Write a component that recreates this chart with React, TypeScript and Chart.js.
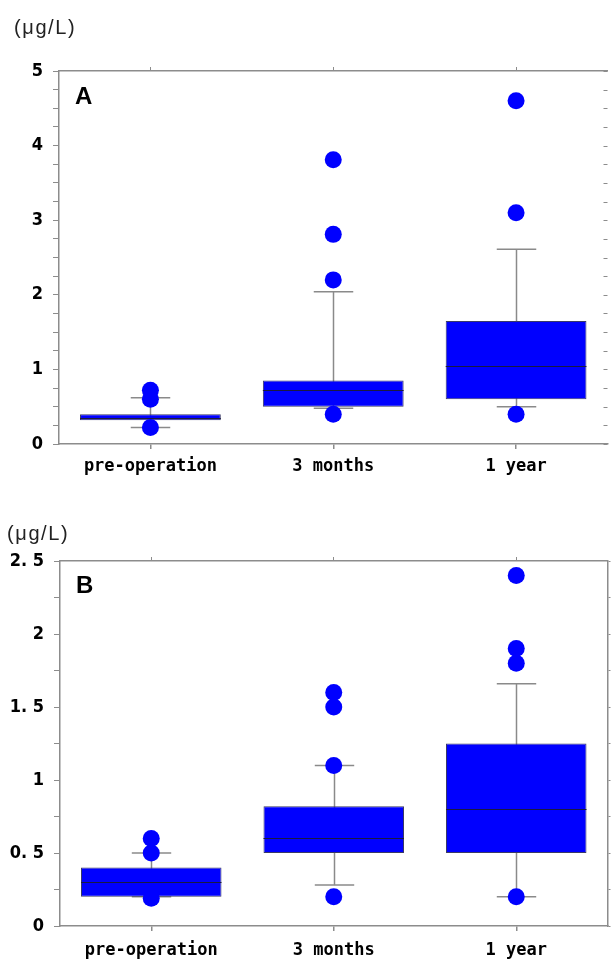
import React, { useEffect, useRef } from 'react';
import { Chart, registerables } from 'chart.js';

Chart.register(...registerables);

const categories = ['pre-operation', '3 months', '1 year'];

// Panel A
const aQ1 = [0.32, 0.5, 0.6];
const aQ3 = [0.4, 0.85, 1.65];
const aMedian = [0.35, 0.72, 1.05];
const aWhiskerLow = [0.22, 0.48, 0.5];
const aWhiskerHigh = [0.62, 2.04, 2.61];
const aOutliersPre = [0.72, 0.6, 0.22];
const aOutliers3m = [0.4, 2.2, 2.81, 3.81];
const aOutliers1y = [0.4, 3.1, 4.6];
const aTickValues = [0, 1, 2, 3, 4, 5];
const aTickLabels = ['0', '1', '2', '3', '4', '5'];

// Panel B
const bQ1 = [0.2, 0.5, 0.5];
const bQ3 = [0.4, 0.82, 1.25];
const bMedian = [0.3, 0.6, 0.8];
const bWhiskerLow = [0.2, 0.28, 0.2];
const bWhiskerHigh = [0.5, 1.1, 1.66];
const bOutliersPre = [0.6, 0.5, 0.19];
const bOutliers3m = [1.6, 1.5, 1.1, 0.2];
const bOutliers1y = [2.4, 1.9, 1.8, 0.2];
const bTickValues = [0, 0.5, 1, 1.5, 2, 2.5];
const bTickLabels = ['0', '0. 5', '1', '1. 5', '2', '2. 5'];

const BLUE = '#0000ff';
const AXIS = '#8c8c8c';
const NUM_FONT = "'DejaVu Sans Condensed', 'Liberation Sans Narrow', 'DejaVu Sans', sans-serif";
const CAT_FONT = "'DejaVu Sans Mono', 'Liberation Mono', monospace";

type PanelProps = {
  top: number;
  height: number;
  leftW: number;
  rightW: number;
  rightInward: boolean;
  topAxisH: number;
  bottomAxisH: number;
  yMax: number;
  q1: number[];
  q3: number[];
  median: number[];
  low: number[];
  high: number[];
  outliers: number[][];
  tickValues: number[];
  tickLabels: string[];
  catPadding: number;
};

function BoxPanel(p: PanelProps) {
  const ref = useRef<HTMLCanvasElement | null>(null);
  useEffect(() => {
    if (!ref.current) return;
    const points: { x: string; y: number }[] = [];
    p.outliers.forEach((arr, i) => arr.forEach((v) => points.push({ x: categories[i], y: v })));

    const boxPlugin = {
      id: 'boxWhiskers',
      beforeDatasetsDraw(chart: any) {
        const { ctx } = chart;
        const x = chart.scales.x;
        const y = chart.scales.y;
        const step = x.getPixelForValue(1) - x.getPixelForValue(0);
        const cap = step * 0.108;
        ctx.save();
        ctx.strokeStyle = '#8a8a8a';
        ctx.lineWidth = 1.5;
        categories.forEach((_, i) => {
          const px = Math.round(x.getPixelForValue(i)) + 0.5;
          ctx.beginPath();
          ctx.moveTo(px, y.getPixelForValue(p.low[i]));
          ctx.lineTo(px, y.getPixelForValue(p.high[i]));
          ctx.stroke();
          [p.low[i], p.high[i]].forEach((v) => {
            const py = y.getPixelForValue(v);
            ctx.beginPath();
            ctx.moveTo(px - cap, py);
            ctx.lineTo(px + cap, py);
            ctx.stroke();
          });
        });
        ctx.restore();
      },
      afterDatasetDraw(chart: any, args: any) {
        if (args.index !== 0) return;
        const { ctx } = chart;
        const y = chart.scales.y;
        ctx.save();
        ctx.strokeStyle = '#1a1a40';
        ctx.lineWidth = 1;
        args.meta.data.forEach((bar: any, i: number) => {
          const { x: bx, width } = bar.getProps(['x', 'width'], true);
          const py = Math.round(y.getPixelForValue(p.median[i])) + 0.5;
          ctx.beginPath();
          ctx.moveTo(bx - width / 2, py);
          ctx.lineTo(bx + width / 2, py);
          ctx.stroke();
        });
        ctx.restore();
      },
      afterDraw(chart: any) {
        if (!p.rightInward) return;
        const { ctx, chartArea } = chart;
        const yr = chart.scales.yRight;
        ctx.save();
        ctx.strokeStyle = AXIS;
        ctx.lineWidth = 1;
        yr.ticks.forEach((t: any) => {
          const py = Math.round(yr.getPixelForValue(t.value)) + 0.5;
          ctx.beginPath();
          ctx.moveTo(chartArea.right - 4, py);
          ctx.lineTo(chartArea.right, py);
          ctx.stroke();
        });
        ctx.restore();
      },
    };

    const labelFor = (v: number) => {
      const idx = p.tickValues.findIndex((t) => Math.abs(t - v) < 1e-6);
      return idx >= 0 ? p.tickLabels[idx] : '';
    };

    const chart = new Chart(ref.current, {
      type: 'bar',
      data: {
        labels: categories,
        datasets: [
          {
            type: 'bar',
            data: p.q1.map((v, i) => [v, p.q3[i]]) as any,
            backgroundColor: BLUE,
            borderColor: '#3a3a66',
            borderWidth: 1,
            borderSkipped: false,
            barPercentage: 0.77,
            categoryPercentage: 1,
            order: 1,
            xAxisID: 'x',
            yAxisID: 'y',
          },
          {
            type: 'line',
            data: points as any,
            showLine: false,
            pointRadius: 8.5,
            pointBackgroundColor: BLUE,
            pointBorderWidth: 0,
            pointBorderColor: BLUE,
            order: 0,
            xAxisID: 'x',
            yAxisID: 'y',
          },
        ] as any,
      },
      options: {
        animation: false,
        responsive: false,
        maintainAspectRatio: false,
        devicePixelRatio: 1,
        layout: { padding: 0 },
        plugins: { legend: { display: false }, tooltip: { enabled: false } },
        scales: {
          x: {
            type: 'category',
            position: 'bottom',
            offset: true,
            grid: { offset: false, drawOnChartArea: false, drawTicks: true, tickLength: 5, color: AXIS, lineWidth: 1.5 },
            border: { display: true, color: AXIS, width: 1.5 },
            ticks: { color: '#000', font: { family: CAT_FONT, size: 17, weight: 'bold' }, padding: p.catPadding, maxRotation: 0, autoSkip: false },
            afterFit: (s: any) => { s.height = p.bottomAxisH; },
          },
          xTop: {
            type: 'category',
            position: 'top',
            labels: categories,
            offset: true,
            grid: { offset: false, drawOnChartArea: false, drawTicks: true, tickLength: 4, color: AXIS, lineWidth: 1 },
            border: { display: true, color: AXIS, width: 1.5 },
            ticks: { display: false },
            afterFit: (s: any) => { s.height = p.topAxisH; },
          },
          y: {
            type: 'linear',
            position: 'left',
            min: 0,
            max: p.yMax,
            grid: { drawOnChartArea: false, drawTicks: true, tickLength: 6, color: AXIS, lineWidth: 1 },
            border: { display: true, color: AXIS, width: 1.5 },
            ticks: { stepSize: 0.25, autoSkip: false, callback: (v: any) => labelFor(Number(v)), color: '#000', font: { family: NUM_FONT, size: 18, weight: 'bold' }, padding: 10 },
            afterFit: (s: any) => { s.width = p.leftW; },
          },
          yRight: {
            type: 'linear',
            position: 'right',
            min: 0,
            max: p.yMax,
            grid: { drawOnChartArea: false, drawTicks: !p.rightInward, tickLength: 3, color: AXIS, lineWidth: 1 },
            border: { display: !p.rightInward, color: AXIS, width: 1.5 },
            ticks: { stepSize: 0.25, autoSkip: false, display: false },
            afterFit: (s: any) => { s.width = p.rightW; },
          },
        },
      } as any,
      plugins: [boxPlugin],
    });
    return () => chart.destroy();
  }, []);

  return (
    <div style={{ position: 'absolute', left: 0, top: p.top, width: 616, height: p.height }}>
      <canvas
        ref={ref}
        width={616}
        height={p.height}
        style={{ display: 'block', width: 616, height: p.height }}
      />
    </div>
  );
}

const unitStyle: React.CSSProperties = {
  position: 'absolute',
  fontFamily: "'Liberation Sans', Arial, sans-serif",
  fontSize: 20,
  letterSpacing: 1.6,
  color: '#222',
  lineHeight: '22px',
  whiteSpace: 'nowrap',
};

const panelLetterStyle: React.CSSProperties = {
  position: 'absolute',
  fontFamily: "'Liberation Sans', Arial, sans-serif",
  fontSize: 24,
  fontWeight: 'bold',
  color: '#000',
  lineHeight: '24px',
};

export default function App() {
  return (
    <div style={{ position: 'absolute', left: 0, top: 0, width: 616, height: 964, background: '#fff', overflow: 'hidden' }}>
      <BoxPanel
        top={0}
        height={490}
        leftW={59}
        rightW={0}
        rightInward={true}
        topAxisH={71}
        bottomAxisH={46}
        yMax={5}
        q1={aQ1}
        q3={aQ3}
        median={aMedian}
        low={aWhiskerLow}
        high={aWhiskerHigh}
        outliers={[aOutliersPre, aOutliers3m, aOutliers1y]}
        tickValues={aTickValues}
        tickLabels={aTickLabels}
        catPadding={7}
      />
      <BoxPanel
        top={490}
        height={474}
        leftW={60}
        rightW={1}
        rightInward={false}
        topAxisH={71}
        bottomAxisH={38}
        yMax={2.5}
        q1={bQ1}
        q3={bQ3}
        median={bMedian}
        low={bWhiskerLow}
        high={bWhiskerHigh}
        outliers={[bOutliersPre, bOutliers3m, bOutliers1y]}
        tickValues={bTickValues}
        tickLabels={bTickLabels}
        catPadding={9}
      />
      <div style={{ ...unitStyle, left: 14, top: 16 }}>(μg/L)</div>
      <div style={{ ...unitStyle, left: 7, top: 522 }}>(μg/L)</div>
      <div style={{ ...panelLetterStyle, left: 75, top: 84 }}>A</div>
      <div style={{ ...panelLetterStyle, left: 76, top: 573 }}>B</div>
    </div>
  );
}
